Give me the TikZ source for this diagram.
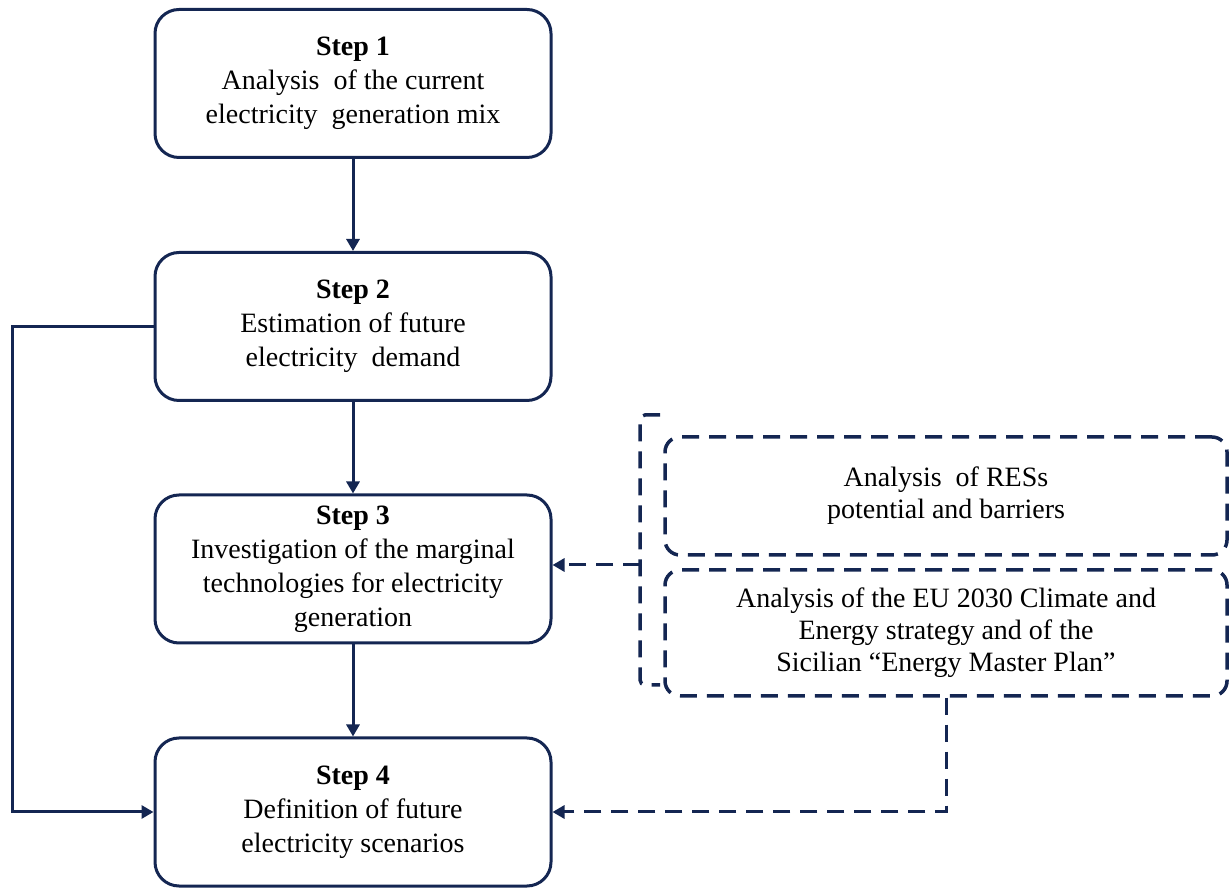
\documentclass[tikz,border=0pt]{standalone}
\usepackage{fontspec}
\setmainfont{Liberation Serif}
\usetikzlibrary{arrows.meta}
\definecolor{navy}{RGB}{20,38,82}
\begin{document}
\begin{tikzpicture}[x=1pt,y=1pt,
  stepbox/.style={draw=navy,line width=3pt,rounded corners=24pt,minimum width=396pt,minimum height=148pt,align=center,font=\fontsize{28}{34}\selectfont,inner sep=0pt},
  dbox/.style={draw=navy,line width=3.5pt,dash pattern=on 17pt off 10pt,rounded corners=15pt,minimum width=562pt,align=center,font=\fontsize{28}{32}\selectfont,inner sep=0pt},
  conn/.style={draw=navy,line width=3pt,-{Triangle[length=12pt,width=13pt]}},
  dconn/.style={draw=navy,line width=3pt,dash pattern=on 17pt off 10pt,-{Triangle[length=12pt,width=13pt]}},
  bracket/.style={draw=navy,line width=3.5pt,dash pattern=on 17pt off 10pt,rounded corners=5pt}
]
\useasboundingbox (0,0) rectangle (1230,888);
\node[stepbox] (s1) at (353,804.5) {\textbf{Step 1}\\Analysis\ \ of the current\\electricity\ \ generation mix};
\node[stepbox] (s2) at (353,561.5) {\textbf{Step 2}\\Estimation of future\\electricity\ \ demand};
\node[stepbox] (s3) at (353,319) {\textbf{Step 3}\\Investigation of the marginal\\technologies for electricity\\generation};
\node[stepbox] (s4) at (353,76) {\textbf{Step 4}\\Definition of future\\electricity scenarios};
\node[dbox,minimum height=118pt] (ra) at (946,392) {Analysis\ \ of RESs\\potential and barriers};
\node[dbox,minimum height=126pt] (rb) at (946,255) {Analysis of the EU 2030 Climate and\\Energy strategy and of the\\Sicilian ``Energy Master Plan''};
\coordinate (bt) at (660,473);
\coordinate (bb) at (660,203);
\coordinate (bm) at (640,323);
\coordinate (lc) at (12,561.5);
\draw[bracket] (bt) -- (640,473) -- (640,203) -- (bb);
\draw[conn] (s1) -- (s2);
\draw[conn] (s2) -- (s3);
\draw[conn] (s3) -- (s4);
\draw[dconn] (bm) -- (s3.east |- bm);
\draw[conn,rounded corners=0pt] (s2.west) -- (lc) |- (s4.west);
\draw[dconn] (rb.south) |- (s4.east);
\end{tikzpicture}
\end{document}
